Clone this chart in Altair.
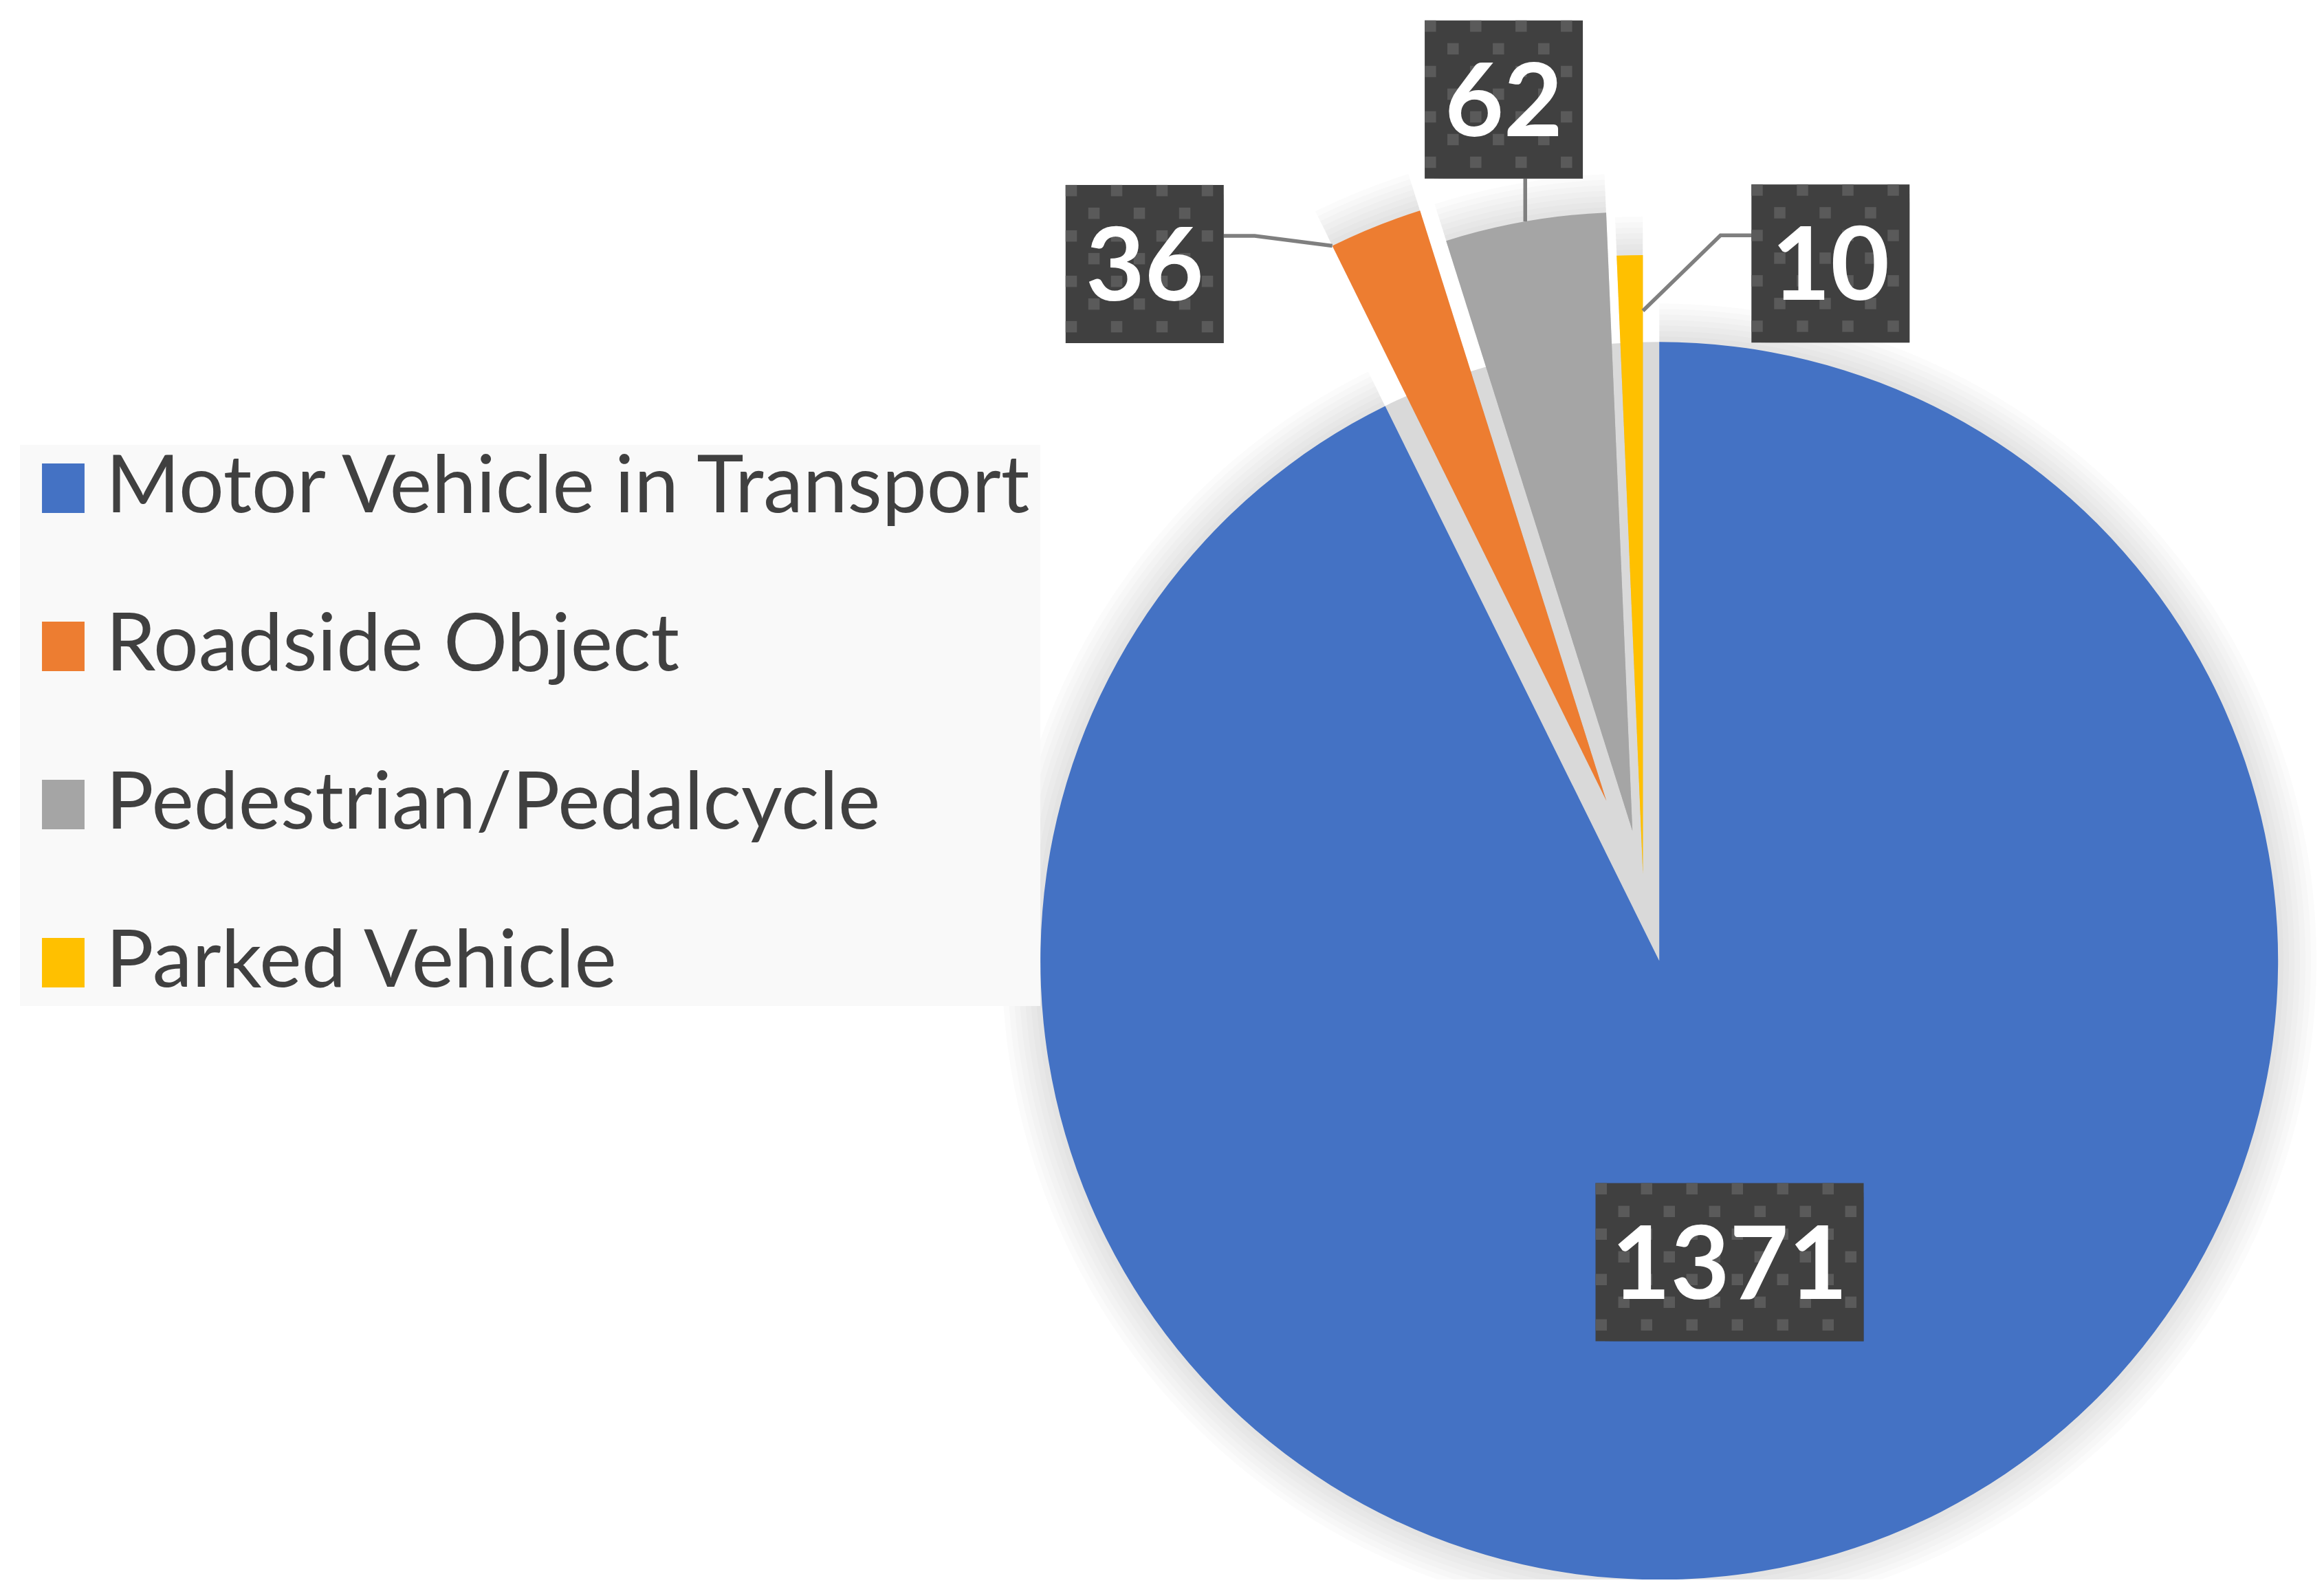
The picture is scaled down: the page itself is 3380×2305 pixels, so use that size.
import math
import altair as alt
import pandas as pd

# ---------------- data ----------------
categories = ["Motor Vehicle in Transport", "Roadside Object",
              "Pedestrian/Pedalcycle", "Parked Vehicle"]
values = [1371, 36, 62, 10]
colors = ["#4472C4", "#ED7D31", "#A5A5A5", "#FFC000"]

# ---------------- layout / style (view pixels) ----------------
W, H = 3364, 2289
CX, CY = 2382, 1290          # pie centre
R = 900                      # pie radius
explode = [102, 144, 91, 27] # explosion distance per slice
label_polar = [(0.0, 0.5), (-18.8, 1.144), (0.0, 1.2), (18.3, 1.032)]
leader_style = {1: ("right", "start", 1.0), 2: ("bottom", "mid", 1.0),
                3: ("left", "end", 0.91)}
BOX_H = 230
LEADER_UP = 41
LEADER_RUN = 45
DOT, DOT_PITCH = 16.5, 33
FONT = "Lato"


def box_w(n):
    return 230 + (n - 2) * 80


total = sum(values)
slices, labels, boxes, dots, leaders, gap = [], [], [], [], [], []
acc = 0
for i, (c, v) in enumerate(zip(categories, values)):
    f0 = acc / total
    acc += v
    f1 = acc / total
    a0, a1 = f0 * 2 * math.pi, f1 * 2 * math.pi
    am = (a0 + a1) / 2
    d = explode[i]
    sx, sy = CX + d * math.sin(am), CY - d * math.cos(am)
    slices.append(dict(cat=c, value=v, f0=f0, f1=f1, sx=sx, sy=sy))

    shift, rf = label_polar[i]
    la = am + math.radians(shift)
    lx, ly = sx + rf * R * math.sin(la), sy - rf * R * math.cos(la)
    txt = str(v)
    bw = box_w(len(txt))
    x0, x1, y0, y1 = lx - bw / 2, lx + bw / 2, ly - BOX_H / 2, ly + BOX_H / 2
    labels.append(dict(cat=c, txt=txt, lx=lx, ly=ly))
    boxes.append(dict(cat=c, x0=x0, x1=x1, y0=y0, y1=y1))
    r = 0
    yy = y0
    while yy + DOT <= y1 + 0.1:
        xx = x0 + (r % 2) * DOT_PITCH
        while xx + DOT <= x1 + 0.1:
            dots.append(dict(x0=xx, x1=xx + DOT, y0=yy, y1=yy + DOT))
            xx += 2 * DOT_PITCH
        yy += DOT_PITCH
        r += 1

    if i in leader_style:
        side, which, frac = leader_style[i]
        ang = {"start": a0, "mid": am, "end": a1}[which]
        ax, ay = sx + frac * R * math.sin(ang), sy - frac * R * math.cos(ang)
        if side == "right":
            pts = [(x1, ly - LEADER_UP), (x1 + LEADER_RUN, ly - LEADER_UP), (ax, ay)]
        elif side == "left":
            pts = [(x0, ly - LEADER_UP), (x0 - LEADER_RUN, ly - LEADER_UP), (ax, ay)]
        else:
            pts = [(ax, y1), (ax, ay)]
        for k, (px, py) in enumerate(pts):
            leaders.append(dict(lid=i, k=k, px=px, py=py))

# grey "shadow" filling the wedge that the exploded slices left behind
gap.append(dict(f0=slices[0]["f1"], f1=1.0, sx=slices[0]["sx"], sy=slices[0]["sy"]))

df_s = pd.DataFrame(slices)
df_l = pd.DataFrame(labels)
df_b = pd.DataFrame(boxes)
df_d = pd.DataFrame(dots)
df_k = pd.DataFrame(leaders)
df_g = pd.DataFrame(gap)

theta_scale = alt.Scale(domain=[0, 1], range=[0, 2 * math.pi])
X = lambda f: alt.X(f, type="quantitative", scale=None, axis=None)
Y = lambda f: alt.Y(f, type="quantitative", scale=None, axis=None)

gap_layer = alt.Chart(df_g).mark_arc(radius=R, color="#D9D9D9", strokeWidth=0).encode(
    x=X("sx"), y=Y("sy"),
    theta=alt.Theta("f0:Q", scale=theta_scale), theta2="f1:Q")

glow_layers = [
    alt.Chart(df_s).mark_arc(radius=R + k, color="#000000", opacity=0.017,
                             strokeWidth=0).encode(
        x=X("sx"), y=Y("sy"),
        theta=alt.Theta("f0:Q", scale=theta_scale), theta2="f1:Q")
    for k in (56, 48, 40, 32, 24, 16, 8)
]

pie = alt.Chart(df_s).mark_arc(radius=R, strokeWidth=0, opacity=1).encode(
    x=X("sx"), y=Y("sy"),
    theta=alt.Theta("f0:Q", scale=theta_scale), theta2="f1:Q",
    color=alt.Color("cat:N", sort=categories,
                    scale=alt.Scale(domain=categories, range=colors),
                    legend=alt.Legend(
                        title=None, orient="none", legendX=21, legendY=639,
                        offset=0, direction="vertical",
                        symbolType="M-0.86,-1H0.86V1H-0.86Z", symbolSize=5184,
                        symbolStrokeWidth=0, symbolOpacity=1,
                        labelFont=FONT, labelFontSize=116, labelColor="#404040",
                        labelOffset=4, labelLimit=3000, rowPadding=114,
                        padding=5, fillColor="#F9F9F9")))

leader_layer = alt.Chart(df_k).mark_line(color="#7F7F7F", strokeWidth=5.5).encode(
    x=X("px"), y=Y("py"), detail="lid:N", order="k:Q")

shadow_layers = [
    alt.Chart(df_b).mark_rect(color="#000000", opacity=op).encode(
        x=alt.X("x0:Q", scale=None, axis=None), x2="x1:Q",
        y=alt.Y("y0:Q", scale=None, axis=None), y2="y1:Q",
        xOffset=alt.value(off), yOffset=alt.value(off))
    for off, op in ((26, 0.08), (20, 0.12), (14, 0.16))
]

box_layer = alt.Chart(df_b).mark_rect(color="#404040").encode(
    x=alt.X("x0:Q", scale=None, axis=None), x2="x1:Q",
    y=alt.Y("y0:Q", scale=None, axis=None), y2="y1:Q")

dot_layer = alt.Chart(df_d).mark_rect(color="#5A5A5A").encode(
    x=alt.X("x0:Q", scale=None, axis=None), x2="x1:Q",
    y=alt.Y("y0:Q", scale=None, axis=None), y2="y1:Q")

text_layer = alt.Chart(df_l).mark_text(
    font=FONT, fontWeight="bold", fontSize=148, color="#FFFFFF",
    align="center", baseline="middle", dy=9).encode(
    x=X("lx"), y=Y("ly"), text="txt:N")

chart = alt.layer(
    gap_layer, *glow_layers, pie, leader_layer, *shadow_layers,
    box_layer, dot_layer, text_layer
).properties(
    width=W, height=H, padding=0,
    autosize=alt.AutoSizeParams(type="none"),
    background="#FFFFFF"
).configure_view(stroke=None)

chart.save("out.html", embed_options={"renderer": "svg", "actions": False})
